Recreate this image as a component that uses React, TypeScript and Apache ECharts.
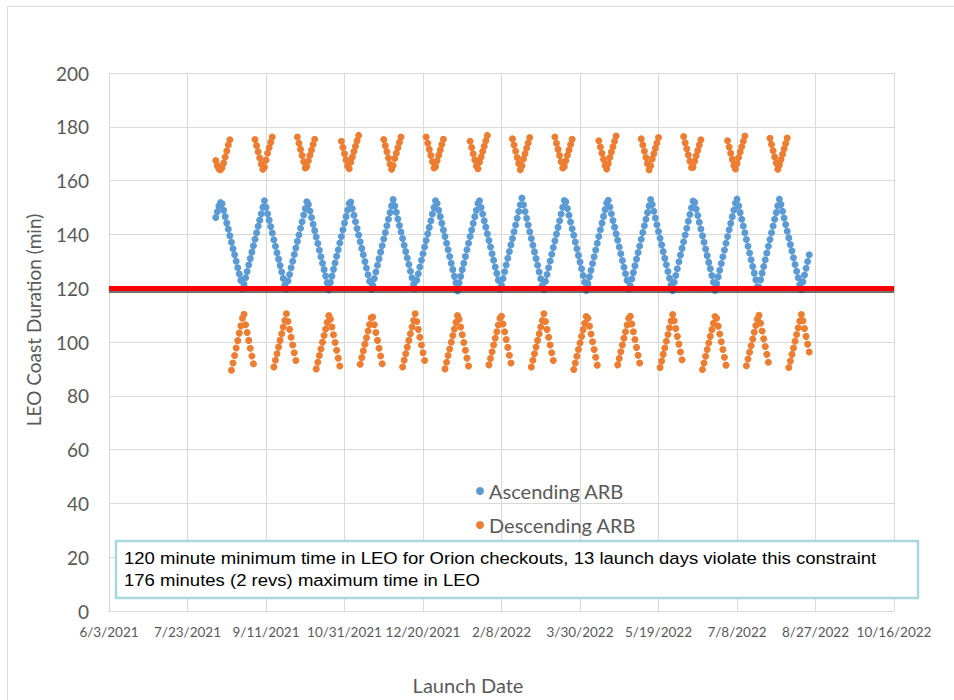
import React, { useEffect, useRef } from "react";
import * as echarts from "echarts";

// Excel serial day numbers (1 = 1900-01-01 system), daily launch dates
const X_MIN = 44350; // 6/3/2021
const X_MAX = 44850; // 10/16/2022
const X_STEP = 50;
const FIRST_DAY = 44418; // 8/10/2021, first launch date in the data

const Y_MIN = 0;
const Y_MAX = 200;
const Y_STEP = 20;

const SERIES_NAMES = ["Ascending ARB", "Descending ARB"];
const CONSTRAINT_MIN = 120;
const CONSTRAINT_LINE_UNDER = 118.7;

const NOTE_LINES = [
  "120 minute minimum time in LEO for Orion checkouts, 13 launch days violate this constraint",
  "176 minutes (2 revs) maximum time in LEO",
];

// Ascending ARB coast duration (min), one value per day from FIRST_DAY
const ASCENDING = [
  146.3, 148.4, 150.5, 151.8,
  151.4, 149.0, 146.6, 144.2, 141.9, 139.5, 137.1, 134.7, 132.4, 130.0, 127.6, 125.3, 122.9, 119.8,
  121.5, 123.9, 126.2, 128.6, 131.0, 133.4, 135.8, 138.2, 140.6, 143.0, 145.3, 147.7, 150.1, 152.5,
  150.1, 147.7, 145.3, 142.9, 140.5, 138.0, 135.6, 133.2, 130.8, 128.4, 126.0, 123.6, 121.2,
  119.7, 122.7, 125.1, 127.6, 130.0, 132.5, 134.9, 137.4, 139.8, 142.3, 144.7, 147.2, 149.6, 152.1,
  151.1, 148.7, 146.3, 143.8, 141.4, 139.0, 136.6, 134.1, 131.7, 129.3, 126.9, 124.5, 122.0, 119.3,
  122.1, 124.5, 127.0, 129.4, 131.9, 134.3, 136.8, 139.2, 141.7, 144.2, 146.6, 149.1, 151.5,
  152.0, 149.6, 147.1, 144.7, 142.2, 139.8, 137.3, 134.8, 132.4, 129.9, 127.5, 125.0, 122.6, 119.5,
  121.1, 123.6, 126.0, 128.5, 130.9, 133.4, 135.8, 138.3, 140.7, 143.2, 145.6, 148.1, 150.6, 153.0,
  150.6, 148.2, 145.7, 143.3, 140.9, 138.5, 136.0, 133.6, 131.2, 128.8, 126.3, 123.9, 121.5,
  119.8, 123.0, 125.4, 127.9, 130.4, 132.8, 135.3, 137.7, 140.2, 142.6, 145.1, 147.6, 150.0, 152.5,
  151.5, 149.0, 146.6, 144.1, 141.6, 139.2, 136.7, 134.3, 131.8, 129.3, 126.9, 124.4, 122.0, 119.0,
  122.0, 124.4, 126.9, 129.3, 131.8, 134.3, 136.7, 139.2, 141.6, 144.1, 146.6, 149.0, 151.5,
  152.5, 150.0, 147.6, 145.1, 142.7, 140.2, 137.7, 135.3, 132.8, 130.4, 127.9, 125.5, 123.0, 119.6,
  121.1, 123.6, 126.1, 128.6, 131.1, 133.6, 136.1, 138.5, 141.0, 143.5, 146.0, 148.5, 151.0, 153.5,
  151.0, 148.5, 146.0, 143.5, 141.0, 138.5, 136.0, 133.5, 131.0, 128.5, 126.0, 123.5, 121.0,
  119.4, 122.6, 125.1, 127.6, 130.1, 132.6, 135.1, 137.6, 140.1, 142.6, 145.1, 147.6, 150.1, 152.6,
  152.1, 149.6, 147.1, 144.6, 142.1, 139.7, 137.2, 134.7, 132.2, 129.7, 127.2, 124.7, 122.2, 119.2,
  121.7, 124.2, 126.7, 129.2, 131.7, 134.2, 136.7, 139.2, 141.7, 144.2, 146.7, 149.2, 151.7,
  152.7, 150.2, 147.7, 145.2, 142.7, 140.2, 137.8, 135.3, 132.8, 130.3, 127.8, 125.4, 122.9, 119.6,
  120.9, 123.4, 125.8, 128.3, 130.8, 133.3, 135.7, 138.2, 140.7, 143.2, 145.6, 148.1, 150.6, 153.0,
  151.1, 148.6, 146.1, 143.6, 141.1, 138.6, 136.1, 133.6, 131.1, 128.7, 126.2, 123.7, 121.2,
  119.1, 122.2, 124.7, 127.2, 129.8, 132.3, 134.8, 137.3, 139.8, 142.3, 144.9, 147.4, 149.9, 152.4,
  151.9, 149.4, 147.0, 144.5, 142.0, 139.5, 137.1, 134.6, 132.1, 129.6, 127.2, 124.7, 122.2, 119.2,
  121.7, 124.2, 126.7, 129.2, 131.7, 134.2, 136.7, 139.2, 141.7, 144.1, 146.6, 149.1, 151.6,
  153.1, 150.6, 148.1, 145.6, 143.1, 140.6, 138.1, 135.6, 133.1, 130.6, 128.1, 125.6, 123.1, 120.5,
  120.3, 123.1, 125.6, 128.1, 130.6, 133.1, 135.6, 138.1, 140.6, 143.1, 145.6, 148.1, 150.6, 153.1,
  151.1, 148.6, 146.1, 143.7, 141.2, 138.7, 136.2, 133.8, 131.3, 128.8, 126.3, 123.9, 121.4,
  119.4, 122.4, 124.9, 127.4, 129.9, 132.4,
];

// Descending ARB coast duration (min), one value per day from FIRST_DAY
const DESCENDING = [
  167.5, 165.5, 164.3, 164.0, 164.8, 166.5, 168.8, 171.0, 173.2, 175.2,
  89.5, 92.2, 95.0, 97.8, 100.5, 103.3, 106.0, 108.8, 110.3, 106.4, 103.5, 100.6, 97.7, 94.8, 91.9,
  175.3, 173.0, 170.7, 168.4, 166.1, 164.2, 165.0, 167.6, 170.2, 172.2, 174.2, 176.2,
  90.7, 93.2, 95.6, 98.1, 100.6, 103.1, 105.6, 108.0, 110.5, 107.6, 104.7, 101.8, 98.9, 96.0, 93.1,
  176.2, 173.9, 171.6, 169.3, 167.0, 164.7, 165.2, 167.4, 169.4, 171.4, 173.4, 175.4,
  90.0, 92.5, 95.0, 97.4, 99.9, 102.4, 104.8, 107.3, 109.8, 108.5, 105.6, 102.7, 99.8, 96.9, 94.0, 91.1,
  174.6, 172.3, 170.0, 167.7, 165.4, 164.4, 166.8, 168.8, 170.8, 172.8, 174.8, 176.8,
  91.7, 94.2, 96.7, 99.2, 101.6, 104.1, 106.5, 109.0, 109.3, 106.4, 103.5, 100.6, 97.7, 94.8, 91.9,
  175.3, 173.0, 170.7, 168.4, 166.1, 164.2, 165.6, 168.2, 170.2, 172.2, 174.2, 176.2,
  90.7, 93.2, 95.6, 98.1, 100.6, 103.1, 105.6, 108.0, 110.5, 107.6, 104.7, 101.8, 98.9, 96.0, 93.1,
  176.2, 173.9, 171.6, 169.3, 167.0, 164.7, 165.2, 167.4, 169.4, 171.4, 173.4, 175.4,
  90.0, 92.5, 95.0, 97.4, 99.9, 102.4, 104.8, 107.3, 109.8, 108.5, 105.6, 102.7, 99.8, 96.9, 94.0, 91.1,
  174.6, 172.3, 170.0, 167.7, 165.4, 164.4, 166.8, 168.8, 170.8, 172.8, 174.8, 176.8,
  91.5, 93.9, 96.4, 98.9, 101.4, 103.8, 106.3, 108.8, 109.6, 106.7, 103.8, 100.9, 98.0, 95.1, 92.2,
  175.5, 173.2, 170.9, 168.6, 166.3, 164.0, 165.5, 168.0, 170.0, 172.0, 174.0, 176.0,
  90.7, 93.2, 95.6, 98.1, 100.6, 103.1, 105.6, 108.0, 110.5, 107.6, 104.7, 101.8, 98.9, 96.0, 93.1,
  176.2, 173.9, 171.6, 169.3, 167.0, 164.7, 165.2, 167.4, 169.4, 171.4, 173.4, 175.4,
  89.8, 92.2, 94.7, 97.2, 99.6, 102.1, 104.6, 107.0, 109.5, 108.8, 105.9, 103.0, 100.1, 97.2, 94.3, 91.4,
  174.8, 172.5, 170.2, 167.9, 165.6, 164.3, 166.3, 168.6, 170.6, 172.6, 174.6, 176.6,
  91.5, 93.9, 96.4, 98.9, 101.4, 103.8, 106.3, 108.8, 109.6, 106.7, 103.8, 100.9, 98.0, 95.1, 92.2,
  175.5, 173.2, 170.9, 168.6, 166.3, 164.0, 165.5, 168.0, 170.0, 172.0, 174.0, 176.0,
  90.5, 92.9, 95.4, 97.8, 100.3, 102.8, 105.3, 107.8, 110.2, 107.9, 105.0, 102.1, 99.2, 96.3, 93.4,
  176.4, 174.1, 171.8, 169.5, 167.2, 164.9, 165.0, 167.2, 169.2, 171.2, 173.2, 175.2,
  89.8, 92.2, 94.7, 97.2, 99.6, 102.1, 104.6, 107.0, 109.5, 108.8, 105.9, 103.0, 100.1, 97.2, 94.3, 91.4,
  174.8, 172.5, 170.2, 167.9, 165.6, 164.3, 166.3, 168.6, 170.6, 172.6, 174.6, 176.6,
  91.2, 93.7, 96.2, 98.6, 101.1, 103.6, 106.1, 108.5, 109.9, 107.0, 104.1, 101.2, 98.3, 95.4, 92.5,
  175.7, 173.4, 171.1, 168.8, 166.5, 164.2, 165.8, 167.8, 169.8, 171.8, 173.8, 175.8,
  90.5, 92.9, 95.4, 97.8, 100.3, 102.8, 105.3, 107.8, 110.2, 107.9, 105.0, 102.1, 99.2, 96.3,
];

const serialToLabel = (v: number) => {
  const d = new Date(Date.UTC(1899, 11, 30) + Math.round(v) * 86400000);
  return `${d.getUTCMonth() + 1}/${d.getUTCDate()}/${d.getUTCFullYear()}`;
};

const GREY_TEXT = "#595959";
const GRID_COLOR = "#d9d9d9";
const FONT = "Lato, 'Open Sans', sans-serif";
const NOTE_FONT = "'Liberation Sans', Arial, sans-serif";

export default function App() {
  const ref = useRef<HTMLDivElement>(null);

  useEffect(() => {
    if (!ref.current) return;
    const chart = echarts.init(ref.current, null, { renderer: "svg" });

    const ascData = ASCENDING.map((v, i) => [FIRST_DAY + i, v]);
    const descData = DESCENDING.map((v, i) => [FIRST_DAY + i, v]);

    chart.setOption({
      animation: false,
      backgroundColor: "#ffffff",
      grid: { left: 109, right: 60, top: 73, bottom: 89 },
      xAxis: {
        type: "value",
        min: X_MIN,
        max: X_MAX,
        interval: X_STEP,
        axisLine: { show: true, lineStyle: { color: GRID_COLOR, width: 1 } },
        axisTick: { show: false },
        axisLabel: {
          formatter: serialToLabel,
          color: GREY_TEXT,
          fontSize: 13.5,
          fontFamily: FONT,
          margin: 14,
          showMinLabel: true,
          showMaxLabel: true,
        },
        splitLine: { show: true, lineStyle: { color: GRID_COLOR, width: 1 } },
      },
      yAxis: {
        type: "value",
        min: Y_MIN,
        max: Y_MAX,
        interval: Y_STEP,
        axisLine: { show: false },
        axisTick: { show: false },
        axisLabel: {
          color: GREY_TEXT,
          fontSize: 19,
          fontFamily: FONT,
          margin: 20,
        },
        splitLine: { show: true, lineStyle: { color: GRID_COLOR, width: 1 } },
      },
      legend: {
        data: SERIES_NAMES,
        orient: "vertical",
        left: 471,
        top: 476,
        padding: 5,
        icon: "circle",
        itemWidth: 8,
        itemHeight: 8,
        itemGap: 14,
        textStyle: { color: GREY_TEXT, fontSize: 20, fontFamily: FONT, lineHeight: 20 },
        selectedMode: false,
      },
      series: [
        {
          name: SERIES_NAMES[0],
          type: "scatter",
          symbol: "circle",
          symbolSize: 7,
          itemStyle: { color: "#5b9bd5", opacity: 1 },
          data: ascData,
          markLine: {
            silent: true,
            symbol: "none",
            label: { show: false },
            z: 5,
            data: [
              { yAxis: CONSTRAINT_LINE_UNDER, lineStyle: { color: "#404040", width: 1.5, type: "solid", opacity: 1 } },
              { yAxis: CONSTRAINT_MIN, lineStyle: { color: "#ff0000", width: 5, type: "solid", opacity: 1 } },
            ],
          },
        },
        {
          name: SERIES_NAMES[1],
          type: "scatter",
          symbol: "circle",
          symbolSize: 7,
          itemStyle: { color: "#ed7d31", opacity: 1 },
          data: descData,
        },
      ],
      graphic: [
        {
          type: "rect",
          silent: true,
          z: 0,
          shape: { x: 7.5, y: 6.5, width: 1000, height: 1000 },
          style: { fill: "none", stroke: GRID_COLOR, lineWidth: 1 },
        },
        {
          type: "text",
          silent: true,
          x: 33,
          y: 320,
          rotation: Math.PI / 2,
          style: {
            text: "LEO Coast Duration (min)",
            fill: GREY_TEXT,
            fontSize: 19,
            fontFamily: FONT,
            textAlign: "center",
            textVerticalAlign: "middle",
          },
        },
        {
          type: "text",
          silent: true,
          x: 468,
          y: 685,
          style: {
            text: "Launch Date",
            fill: GREY_TEXT,
            fontSize: 20,
            fontFamily: FONT,
            textAlign: "center",
            textVerticalAlign: "middle",
          },
        },
        {
          type: "rect",
          silent: true,
          z: 10,
          shape: { x: 116, y: 541, width: 802, height: 57 },
          style: { fill: "#ffffff", stroke: "#a8d8dc", lineWidth: 2.5 },
        },
        {
          type: "text",
          silent: true,
          z: 11,
          x: 124,
          y: 558,
          scaleX: 1.09,
          style: {
            text: NOTE_LINES[0],
            fill: "#000000",
            fontSize: 17,
            fontFamily: NOTE_FONT,
            textVerticalAlign: "middle",
          },
        },
        {
          type: "text",
          silent: true,
          z: 11,
          x: 124,
          y: 580,
          scaleX: 1.09,
          style: {
            text: NOTE_LINES[1],
            fill: "#000000",
            fontSize: 17,
            fontFamily: NOTE_FONT,
            textVerticalAlign: "middle",
          },
        },
      ],
    });

    return () => chart.dispose();
  }, []);

  return (
    <div
      ref={ref}
      style={{ position: "fixed", left: 0, top: 0, width: 954, height: 700, background: "#fff" }}
    />
  );
}
